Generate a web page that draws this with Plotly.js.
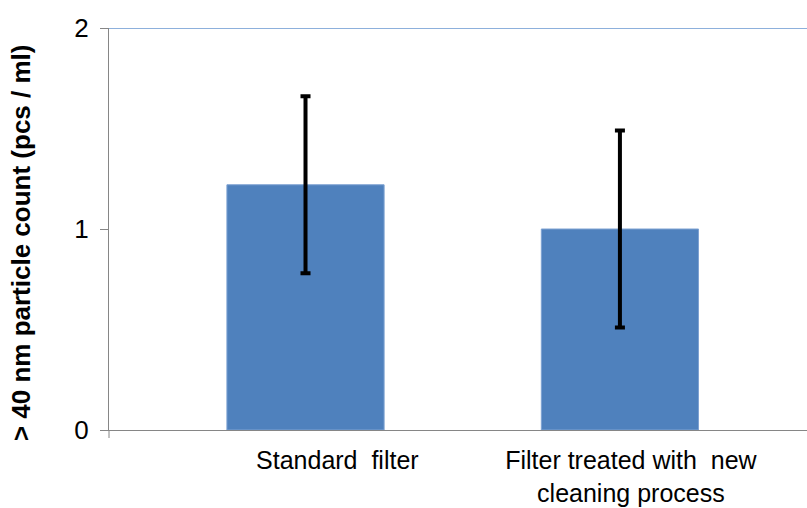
<!DOCTYPE html>
<html>
<head>
<meta charset="utf-8">
<script src="https://cdn.plot.ly/plotly-3.0.1.min.js"></script>
<style>html,body{margin:0;padding:0;background:#fff;}#chart{width:807px;height:508px;}</style>
</head>
<body>
<div id="chart"></div>
<script>
// Data
var categories = ["Standard filter", "Filter treated with new cleaning process"];
var tickLabels = ["Standard&nbsp; filter", "Filter treated with&nbsp; new<br>cleaning process"];
var counts = [1.22, 1.0];
var errors = [0.44, 0.49];
var yTickVals = [0, 1, 2];
var yTickText = ["0", "1", "2"];
var yRange = [0, 2];
var yTitle = "> 40 nm particle count (pcs / ml)";

var FONT = "Liberation Sans, Arial, sans-serif";

// leading padding (layout only) to mimic the off-centre label placement of the original
var labelPad = ["&nbsp;&nbsp;&nbsp;&nbsp;&nbsp;&nbsp;", ""];
var tickTextX = tickLabels.map(function (t, i) { return labelPad[i] + t; });

var trace = {
  type: "bar",
  x: categories,
  y: counts,
  marker: {color: "#4f81bd", line: {color: "#7ea2d2", width: 1}},
  error_y: {type: "data", array: errors, visible: true, color: "#000000", thickness: 4, width: 5},
  hoverinfo: "skip"
};

var layout = {
  width: 807,
  height: 508,
  margin: {l: 109, r: 0, t: 28, b: 78, pad: 0},
  paper_bgcolor: "#ffffff",
  plot_bgcolor: "#ffffff",
  showlegend: false,
  bargap: 0.5,
  font: {family: FONT, color: "#000000", size: 25},
  xaxis: {
    type: "category",
    range: [-0.625, 1.595],
    tickvals: categories,
    ticktext: tickTextX,
    showline: true,
    linecolor: "#868686",
    linewidth: 1,
    ticks: "",
    showgrid: false,
    zeroline: false,
    tickfont: {family: FONT, size: 25, color: "#000000"},
    ticklabelstandoff: 8,
    ticklabelshift: 11,
    fixedrange: true
  },
  yaxis: {
    range: yRange,
    tickvals: yTickVals,
    ticktext: yTickText,
    showline: true,
    linecolor: "#868686",
    linewidth: 1,
    ticks: "outside",
    ticklen: 8,
    tickwidth: 1,
    tickcolor: "#868686",
    showgrid: false,
    zeroline: false,
    tickfont: {family: FONT, size: 26, color: "#000000"},
    ticklabelstandoff: 6,
    fixedrange: true
  },
  shapes: [
    {type: "line", xref: "paper", yref: "y", x0: 0, x1: 1, y0: yRange[1], y1: yRange[1],
     line: {color: "#8db0dc", width: 2}},
    {type: "line", xref: "paper", yref: "paper", ysizemode: "pixel", yanchor: 0,
     x0: 0, x1: 0, y0: -8, y1: 0, line: {color: "#868686", width: 1}}
  ],
  annotations: [
    {text: "<b>" + yTitle + "</b>", xref: "paper", yref: "paper", x: -0.126, y: 0.465,
     xanchor: "center", yanchor: "middle", textangle: -90, showarrow: false,
     font: {family: FONT, size: 26, color: "#000000"}}
  ]
};

Plotly.newPlot("chart", [trace], layout, {displayModeBar: false, staticPlot: true});
</script>
</body>
</html>
